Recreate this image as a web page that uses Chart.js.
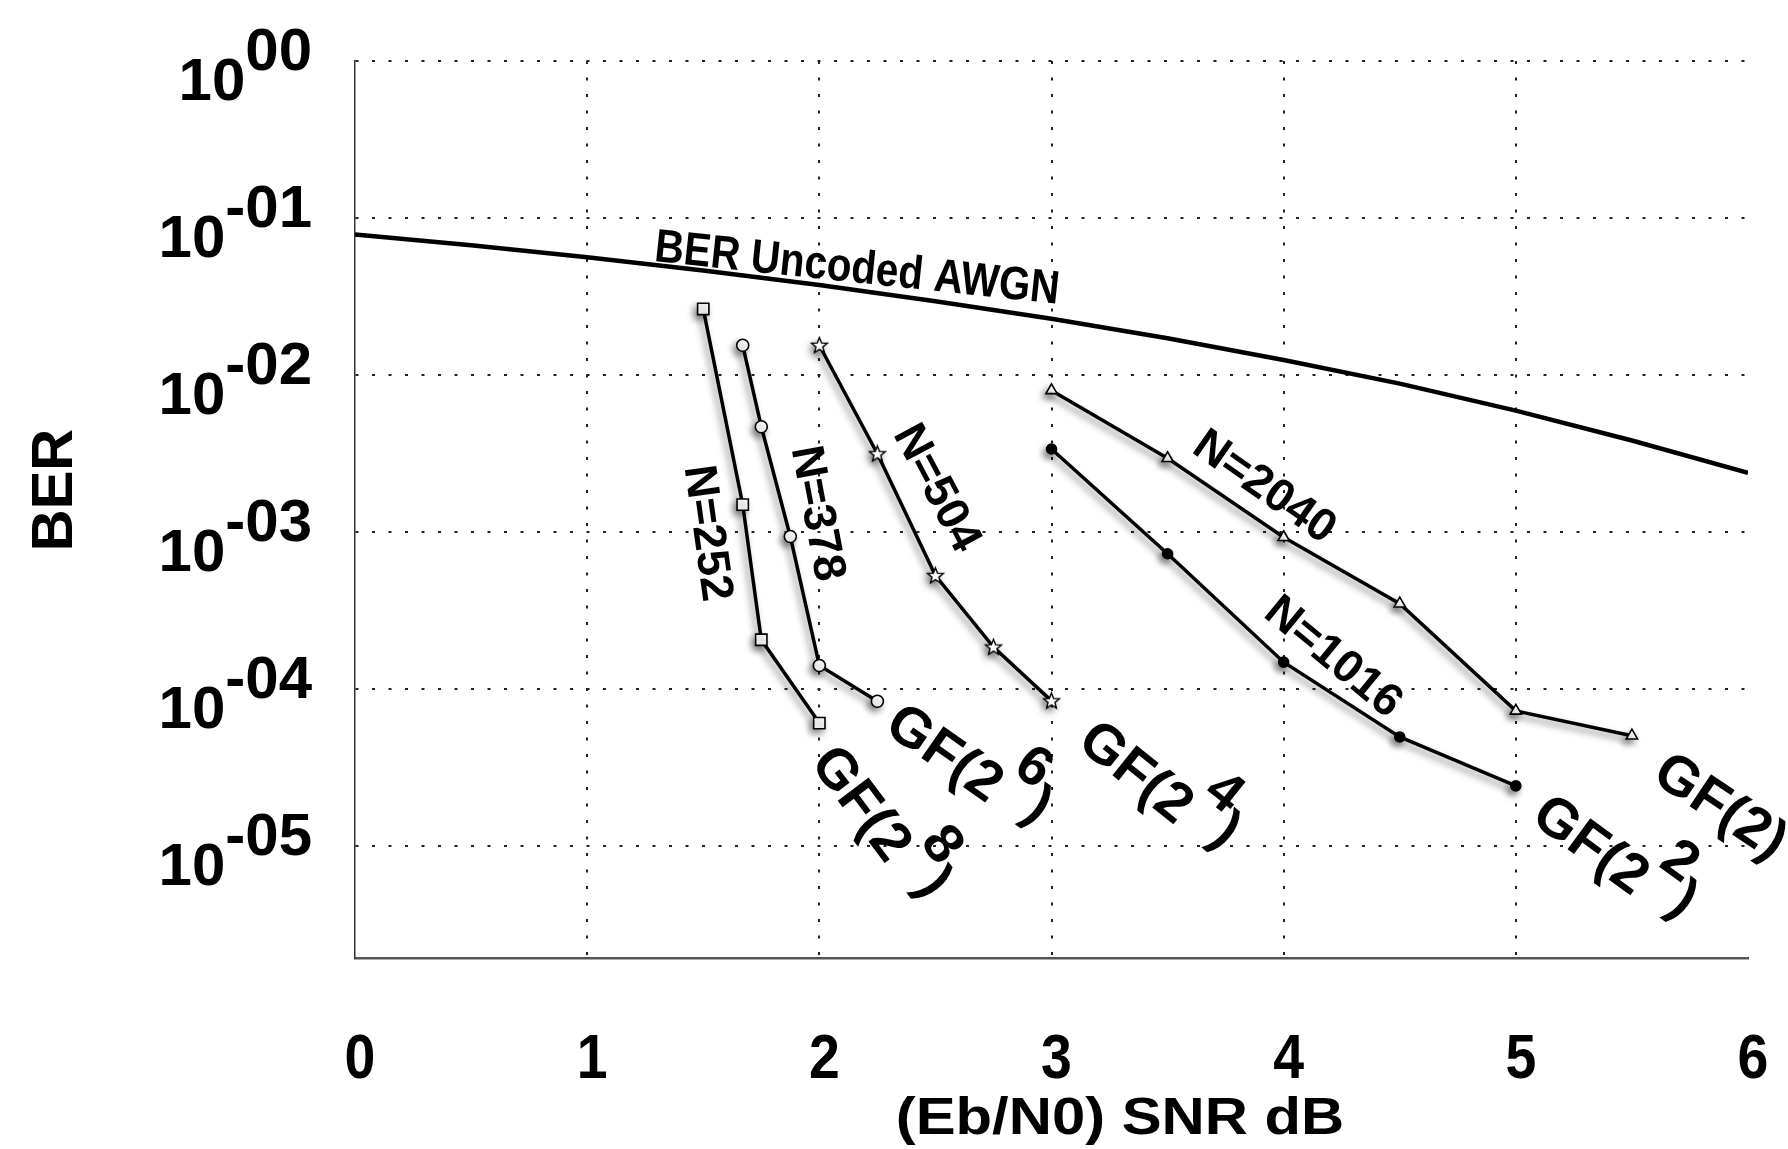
<!DOCTYPE html>
<html><head><meta charset="utf-8">
<script src="https://cdn.jsdelivr.net/npm/chart.js@4.4.1/dist/chart.umd.min.js"></script>
<style>html,body{margin:0;padding:0;background:#fff;}canvas{display:block;}</style>
</head><body>
<canvas id="c" width="1788" height="1149"></canvas>
<script>
// ---------- data ----------
const xTickValues = [0, 1, 2, 3, 4, 5, 6];
const xTickLabels = ['0', '1', '2', '3', '4', '5', '6'];
const yTickValues = [1, 1e-1, 1e-2, 1e-3, 1e-4, 1e-5];
const yTickExponents = ['00', '-01', '-02', '-03', '-04', '-05'];

const uncodedSNR = [0, 0.5, 1, 1.5, 2, 2.5, 3, 3.5, 4, 4.5, 5, 5.5, 6];
const uncodedBER = [0.0786, 0.0671, 0.0563, 0.0464, 0.0375, 0.0296, 0.0229, 0.0172, 0.0125, 0.00884, 0.00595, 0.00384, 0.00239];

const gf256SNR = [1.5, 1.67, 1.75, 2.0];
const gf256BER = [0.0264, 1.50e-3, 2.07e-4, 6.1e-5];

const gf64SNR = [1.67, 1.75, 1.875, 2.0, 2.25];
const gf64BER = [0.0155, 4.7e-3, 9.4e-4, 1.42e-4, 8.4e-5];

const gf16SNR = [2.0, 2.25, 2.5, 2.75, 3.0];
const gf16BER = [0.0155, 3.16e-3, 5.3e-4, 1.86e-4, 8.45e-5];

const gf4SNR = [3.0, 3.5, 4.0, 4.5, 5.0];
const gf4BER = [3.39e-3, 7.3e-4, 1.49e-4, 4.98e-5, 2.43e-5];

const gf2SNR = [3.0, 3.5, 4.0, 4.5, 5.0, 5.5];
const gf2BER = [8.0e-3, 2.96e-3, 9.3e-4, 3.51e-4, 7.3e-5, 5.07e-5];

const curveTexts = ['BER Uncoded AWGN', 'N=252', 'N=378', 'N=504', 'N=2040', 'N=1016'];
const fieldBases = ['GF(2', 'GF(2', 'GF(2', 'GF(2', 'GF(2)'];
const fieldExponents = ['8', '6', '4', '2', ''];
const xTitle = '(Eb/N0) SNR dB';
const yTitle = 'BER';

// ---------- layout / style (not data) ----------
const FONT = '"Liberation Sans", Arial, Helvetica, sans-serif';
// anchors given in data space, placed through the chart scales
const curveTextPlace = [
  {x: 2.164, y: 0.0498, a: 6.04, size: 47, sx: 0.86},
  {x: 1.531, y: 9.93e-4, a: 82, size: 46, sx: 1},
  {x: 2.004, y: 1.33e-3, a: 79.3, size: 46, sx: 1},
  {x: 2.517, y: 1.95e-3, a: 62, size: 46, sx: 1},
  {x: 3.925, y: 2.01e-3, a: 35, size: 46, sx: 1},
  {x: 4.222, y: 1.66e-4, a: 39.5, size: 46, sx: 1}
];
const fieldPlace = [
  {x: 1.957, y: 3.40e-5, a: 53},
  {x: 2.272, y: 5.45e-5, a: 35},
  {x: 3.103, y: 4.37e-5, a: 38.7},
  {x: 5.058, y: 1.45e-5, a: 36.3},
  {x: 5.579, y: 2.65e-5, a: 33.7}
];

function pts(xs, ys) { return xs.map((v, i) => ({x: v, y: ys[i]})); }

function makeStar() {
  const c = document.createElement('canvas');
  c.width = c.height = 19;
  const g = c.getContext('2d');
  g.beginPath();
  for (let i = 0; i < 10; i++) {
    const r = i % 2 ? 3.6 : 8.3;
    const a = -Math.PI / 2 + i * Math.PI / 5;
    g.lineTo(9.5 + r * Math.cos(a), 10 + r * Math.sin(a));
  }
  g.closePath();
  g.fillStyle = '#fff'; g.fill();
  g.lineWidth = 1.4; g.strokeStyle = '#000'; g.stroke();
  return c;
}

function rotText(ctx, text, x, y, deg, size, sx) {
  ctx.save();
  ctx.translate(x, y);
  ctx.rotate(deg * Math.PI / 180);
  ctx.scale(sx, 1);
  ctx.font = 'bold ' + size + 'px ' + FONT;
  ctx.textAlign = 'center';
  ctx.textBaseline = 'alphabetic';
  ctx.fillStyle = '#000';
  ctx.fillText(text, 0, size * 0.358);
  ctx.restore();
}

function fieldText(ctx, base, sup, x, y, deg) {
  const size = 56;
  ctx.save();
  ctx.translate(x, y);
  ctx.rotate(deg * Math.PI / 180);
  ctx.font = 'bold ' + size + 'px ' + FONT;
  ctx.textAlign = 'left';
  ctx.textBaseline = 'alphabetic';
  ctx.fillStyle = '#000';
  ctx.fillText(base, 0, 0);
  if (sup) {
    let w = ctx.measureText(base).width;
    const gx = w + 2;
    ctx.fillText(sup, gx, -40);
    w = gx + ctx.measureText(sup).width;
    ctx.fillText(')', w + 1, -11);
  }
  ctx.restore();
}

const shadowPlugin = {
  id: 'shadowPlugin',
  beforeDatasetDraw(chart, args) {
    const ds = chart.data.datasets[args.index];
    if (!ds.withShadow) return;
    const ctx = chart.ctx;
    ctx.save();
    ctx.shadowColor = 'rgba(0,0,0,0.45)';
    ctx.shadowBlur = 7;
    ctx.shadowOffsetX = -3;
    ctx.shadowOffsetY = 4;
  },
  afterDatasetDraw(chart, args) {
    const ds = chart.data.datasets[args.index];
    if (!ds.withShadow) return;
    chart.ctx.restore();
  }
};

const textPlugin = {
  id: 'textPlugin',
  afterDraw(chart) {
    const ctx = chart.ctx;
    const xs = chart.scales.x, ys = chart.scales.y;
    const area = chart.chartArea;

    // y tick labels 10^exp
    ctx.save();
    ctx.fillStyle = '#000';
    ctx.textBaseline = 'alphabetic';
    ctx.textAlign = 'right';
    ctx.font = 'bold 60px ' + FONT;
    const rightEdge = area.left - 43;
    yTickValues.forEach((v, i) => {
      const py = ys.getPixelForValue(v);
      const sup = yTickExponents[i];
      const sw = ctx.measureText(sup).width;
      ctx.fillText(sup, rightEdge, py + 9);
      ctx.fillText('10', rightEdge - sw, py + 39);
    });
    ctx.restore();
    // x tick labels
    xTickValues.forEach((v, i) => {
      ctx.save();
      ctx.fillStyle = '#000';
      ctx.textBaseline = 'alphabetic';
      ctx.textAlign = 'center';
      ctx.translate(xs.getPixelForValue(v) + 5, area.bottom + 120);
      ctx.scale(0.88, 1);
      ctx.font = 'bold 63px ' + FONT;
      ctx.fillText(xTickLabels[i], 0, 0);
      ctx.restore();
    });

    // axis titles
    ctx.save();
    ctx.fillStyle = '#000';
    ctx.textBaseline = 'alphabetic';
    ctx.textAlign = 'center';
    ctx.translate(area.left + 765, area.bottom + 176);
    ctx.scale(1.15, 1);
    ctx.font = 'bold 52px ' + FONT;
    ctx.fillText(xTitle, 0, 0);
    ctx.restore();
    rotText(ctx, yTitle, area.left - 304, area.top + 429, -90, 58, 1);

    // curve annotations
    curveTexts.forEach((t, i) => {
      const p = curveTextPlace[i];
      rotText(ctx, t, xs.getPixelForValue(p.x), ys.getPixelForValue(p.y), p.a, p.size, p.sx);
    });
    fieldBases.forEach((b, i) => {
      const p = fieldPlace[i];
      fieldText(ctx, b, fieldExponents[i], xs.getPixelForValue(p.x), ys.getPixelForValue(p.y), p.a);
    });
  }
};

const star = makeStar();
const coded = (data, style, radius, bg) => ({
  data, withShadow: true, borderColor: '#000', borderWidth: 3.5,
  pointStyle: style, pointRadius: radius, pointHoverRadius: radius,
  pointBackgroundColor: bg, pointBorderColor: '#000', pointBorderWidth: 1.6,
  tension: 0, fill: false
});

new Chart(document.getElementById('c'), {
  type: 'line',
  data: {
    datasets: [
      {data: pts(uncodedSNR, uncodedBER), borderColor: '#000', borderWidth: 4.5, pointRadius: 0, tension: 0, fill: false},
      coded(pts(gf256SNR, gf256BER), 'rect', 8, '#fff'),
      coded(pts(gf64SNR, gf64BER), 'circle', 6, '#fff'),
      coded(pts(gf16SNR, gf16BER), star, 8, '#fff'),
      coded(pts(gf4SNR, gf4BER), 'circle', 5, '#000'),
      coded(pts(gf2SNR, gf2BER), 'triangle', 6.5, '#fff')
    ]
  },
  options: {
    responsive: false,
    animation: false,
    devicePixelRatio: 1,
    layout: {padding: {left: 355, right: 40, top: 61, bottom: 191}},
    plugins: {legend: {display: false}, tooltip: {enabled: false}},
    scales: {
      x: {
        type: 'linear', min: 0, max: 6,
        afterBuildTicks: s => { s.ticks = xTickValues.map(v => ({value: v})); },
        ticks: {display: false},
        grid: {
          drawTicks: false, lineWidth: 2,
          color: c => (c.tick && (c.tick.value === 0 || c.tick.value === 6)) ? 'rgba(0,0,0,0)' : '#222'
        },
        border: {display: true, color: '#555', width: 2.5, dash: [3, 13.5]}
      },
      y: {
        type: 'logarithmic', min: 1.95e-6, max: 1,
        afterBuildTicks: s => { s.ticks = yTickValues.map(v => ({value: v})); },
        ticks: {display: false},
        grid: {drawTicks: false, lineWidth: 2, color: '#222'},
        border: {display: true, color: '#333', width: 1.5, dash: [3, 13.5]}
      }
    }
  },
  plugins: [shadowPlugin, textPlugin]
});
</script>
</body></html>
